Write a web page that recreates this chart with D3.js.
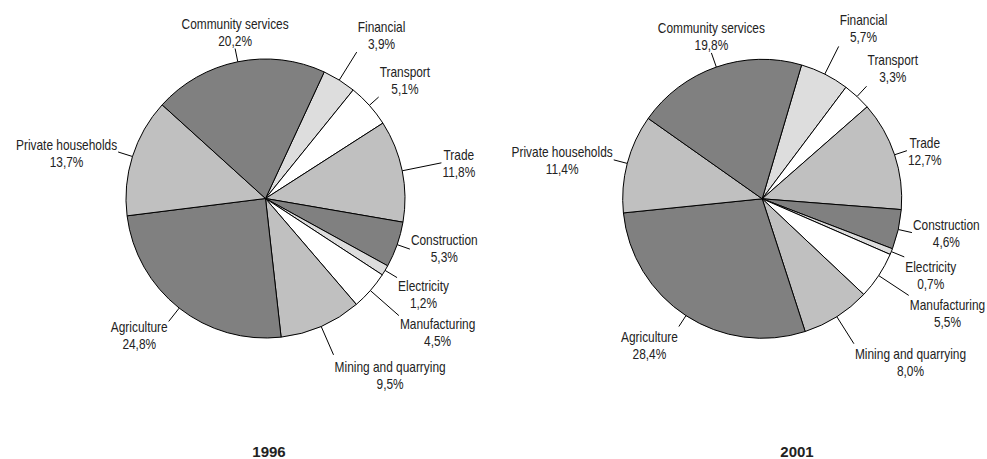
<!DOCTYPE html>
<html>
<head>
<meta charset="utf-8">
<script src="https://cdn.jsdelivr.net/npm/d3@7"></script>
<style>
  body { margin: 0; background: #fff; }
  svg { display: block; }
</style>
</head>
<body>
<div id="chart"></div>
<script>
// Chart data
const sectors = ["Financial", "Transport", "Trade", "Construction", "Electricity",
    "Manufacturing", "Mining and quarrying", "Agriculture", "Private households", "Community services"];
const share1996 = [3.9, 5.1, 11.8, 5.3, 1.2, 4.5, 9.5, 24.8, 13.7, 20.2];
const share2001 = [5.7, 3.3, 12.7, 4.6, 0.7, 5.5, 8.0, 28.4, 11.4, 19.8];
const years = ["1996", "2001"];

// Slice fills (same order as sectors)
const fills = ["#dddddd", "#ffffff", "#c0c0c0", "#808080", "#dddddd",
    "#ffffff", "#c0c0c0", "#808080", "#c0c0c0", "#808080"];

const width = 987;
const height = 459;
const radius = 139.5;
const labelFont = "'Liberation Sans', Arial, sans-serif";
const squeeze = 0.85;   // no narrow font installed, so squeeze labels horizontally

// one entry per pie: centre, rotation of first slice, leader lengths, label side & vertical shift
const pies = [
    {
        values: share1996, cx: 265.5, cy: 198.5, start: 24.9, yearX: 269,
        ext: [33, 12.5, 40, 13.5, 14, 38, 31, 17, 15, 13.5],
        side: ["r", "r", "r", "r", "r", "r", "r", "l", "l", "m"],
        dy: [-20, -20, -3, -4, 13, 13, 17, 11, -2, -20]
    },
    {
        values: share2001, cx: 762.2, cy: 198.8, start: 16.4, yearX: 797,
        ext: [31, 14, 13, 14, 14, 36, 32, 13, 14, 15],
        side: ["r", "r", "r", "r", "r", "r", "r", "l", "l", "m"],
        dy: [-21, -21, -3, -3, 15, 15, 15, 15, -3, -20]
    }
];

const fmt = v => d3.format(".1f")(v).replace(".", ",") + "%";

const svg = d3.select("#chart").append("svg")
    .attr("width", width)
    .attr("height", height);

const arc = d3.arc().innerRadius(0).outerRadius(radius);

pies.forEach((p, pi) => {
    const a0 = p.start * Math.PI / 180;
    const pie = d3.pie().sort(null).value(d => d)
        .startAngle(a0).endAngle(a0 + 2 * Math.PI);
    const arcs = pie(p.values);

    const g = svg.append("g")
        .attr("transform", `translate(${p.cx},${p.cy})`);

    g.selectAll("path.slice")
        .data(arcs)
        .enter().append("path")
        .attr("class", "slice")
        .attr("d", arc)
        .attr("fill", (d, i) => fills[i])
        .attr("stroke", "#000")
        .attr("stroke-width", 1)
        .attr("stroke-linejoin", "round");

    // leader lines + labels
    arcs.forEach((d, i) => {
        const mid = (d.startAngle + d.endAngle) / 2;
        const sx = radius * Math.sin(mid), sy = -radius * Math.cos(mid);
        const er = radius + p.ext[i];
        const ex = er * Math.sin(mid), ey = -er * Math.cos(mid);

        g.append("line")
            .attr("x1", sx).attr("y1", sy)
            .attr("x2", ex).attr("y2", ey)
            .attr("stroke", "#000")
            .attr("stroke-width", 1);

        const text = g.append("text")
            .attr("text-anchor", "middle")
            .style("font-family", labelFont)
            .style("font-size", "14px")
            .style("fill", "#222");
        const t1 = text.append("tspan").attr("x", 0).attr("y", ey + p.dy[i]).text(sectors[i]);
        const t2 = text.append("tspan").attr("x", 0).attr("y", ey + p.dy[i] + 17).text(fmt(d.data));

        const w = squeeze * Math.max(t1.node().getComputedTextLength(), t2.node().getComputedTextLength());
        let tx = ex;
        if (p.side[i] === "r") tx = ex + 1 + w / 2;
        if (p.side[i] === "l") tx = ex - 1 - w / 2;
        text.attr("transform", `translate(${tx},0) scale(${squeeze},1)`);
    });

    svg.append("text")
        .attr("x", p.yearX)
        .attr("y", 457)
        .attr("text-anchor", "middle")
        .style("font-family", "'Liberation Sans', Arial, sans-serif")
        .style("font-weight", "bold")
        .style("font-size", "15px")
        .style("fill", "#222")
        .text(years[pi]);
});
</script>
</body>
</html>
